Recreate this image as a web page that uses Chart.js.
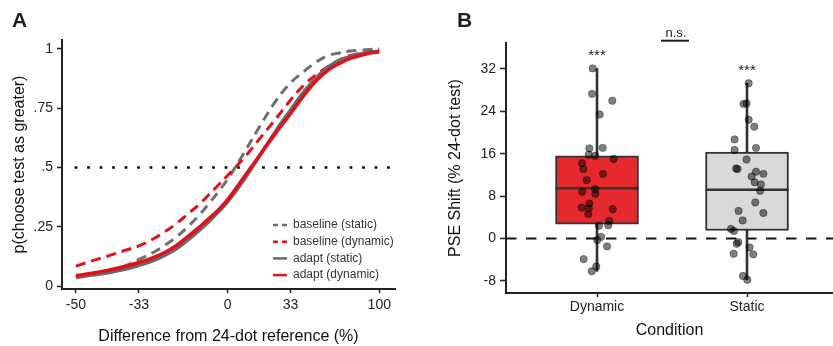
<!DOCTYPE html>
<html>
<head>
<meta charset="utf-8">
<script src="https://cdn.jsdelivr.net/npm/chart.js@4.4.1/dist/chart.umd.min.js"></script>
<style>
  html, body { margin: 0; padding: 0; background: #fff; }
  body { width: 833px; height: 346px; position: relative; overflow: hidden; font-family: "Liberation Sans", Arial, sans-serif; }
  canvas { position: absolute; top: 0; }
  #chartA { left: 0; }
  #chartB { left: 420px; }
  .panel { position: absolute; top: 9px; z-index: 2; font-weight: bold; font-size: 21px; line-height: 1; color: #231f20; }
</style>
</head>
<body>
<div class="panel" style="left:12px">A</div>
<div class="panel" style="left:457px">B</div>
<canvas id="chartA" width="420" height="346"></canvas>
<canvas id="chartB" width="413" height="346"></canvas>
<script>
// ---- panel A: psychometric fits (x = test dots, reference = 24) ----
const numerosity = [12, 13, 14, 15, 16, 17, 18, 19, 20, 21, 22, 23, 24, 26, 28, 30, 32, 34, 36, 38, 40, 42, 44, 46, 48];
const baselineStatic  = [0.035, 0.048, 0.064, 0.085, 0.113, 0.140, 0.172, 0.208, 0.250, 0.296, 0.346, 0.398, 0.450, 0.569, 0.684, 0.784, 0.856, 0.904, 0.944, 0.971, 0.982, 0.990, 0.994, 0.997, 0.999];
const baselineDynamic = [0.085, 0.109, 0.130, 0.151, 0.170, 0.197, 0.229, 0.264, 0.304, 0.342, 0.384, 0.426, 0.466, 0.546, 0.630, 0.708, 0.784, 0.847, 0.891, 0.925, 0.952, 0.971, 0.981, 0.986, 0.990];
const adaptStatic     = [0.039, 0.048, 0.058, 0.071, 0.088, 0.106, 0.130, 0.158, 0.194, 0.232, 0.271, 0.313, 0.355, 0.456, 0.561, 0.658, 0.742, 0.818, 0.879, 0.923, 0.951, 0.967, 0.978, 0.986, 0.990];
const adaptDynamic    = [0.045, 0.056, 0.069, 0.083, 0.100, 0.119, 0.142, 0.172, 0.209, 0.246, 0.284, 0.321, 0.365, 0.466, 0.561, 0.649, 0.727, 0.803, 0.866, 0.910, 0.938, 0.959, 0.971, 0.982, 0.987];
const xTickValues = [12, 16, 24, 32, 48];
const xTickLabels = ['-50', '-33', '0', '33', '100'];
const yTickValues = [0, 0.25, 0.5, 0.75, 1];
const yTickLabels = ['0', '.25', '.5', '.75', '1'];
const chanceLevel = 0.5;

// ---- panel B: PSE shift per participant ----
const conditions = ['Dynamic', 'Static'];
const dynamicShift  = [32.1, 27.3, 26.0, 23.4, 17.0, 17.1, 15.8, 15.6, 15.0, 14.2, 13.1, 12.2, 11.0, 9.3, 8.8, 8.4, 6.6, 5.8, 5.7, 4.6, 5.5, 3.3, 2.5, 2.4, 0.3, -0.3, -1.5, -3.9, -5.3, -6.2];
const dynamicJitter = [-0.029, -0.033, 0.102, 0.018, -0.051, 0.038, -0.055, -0.013, 0.111, -0.1, -0.091, 0.04, -0.069, -0.013, -0.098, -0.011, -0.051, -0.102, -0.055, -0.058, 0.105, 0.082, 0.075, 0.013, 0.027, 0.002, 0.067, -0.089, -0.005, -0.035];
const staticShift   = [29.3, 25.4, 25.5, 22.4, 21.1, 18.7, 16.7, 17.1, 14.9, 13.2, 13.1, 12.6, 12.2, 11.7, 10.6, 10.2, 9.0, 6.8, 5.2, 4.8, 3.4, 1.8, 1.4, -0.7, -1.0, -1.7, -2.9, -3.0, -7.1, -7.8];
const staticJitter  = [0.011, -0.023, -0.003, 0.011, 0.049, -0.083, -0.083, 0.06, -0.003, -0.073, -0.063, 0.06, 0.109, 0.031, 0.051, 0.093, 0.087, 0.055, -0.056, 0.109, -0.029, -0.107, -0.087, -0.058, -0.069, 0.017, -0.089, 0.042, -0.027, 0.002];
const boxQ1 = [2.7, 1.5];
const boxQ3 = [15.6, 16.3];
const boxMedian = [9.5, 9.2];
const whiskerLow = [-6.2, -7.8];
const whiskerHigh = [32.1, 29.3];
const sigLabels = ['***', '***'];
const pairLabel = 'n.s.';
const bTickValues = [-8, 0, 8, 16, 24, 32];

const FONT = '"Liberation Sans", Arial, sans-serif';
Chart.defaults.font.family = FONT;
Chart.defaults.color = '#222';

const axisGrid = len => ({ display: true, drawOnChartArea: false, drawTicks: true, tickLength: len, tickColor: '#222', tickWidth: 1.5 });
const axisBorder = { display: true, color: '#222', width: 2 };

// dotted 0.5 line + legend drawn in the plot corner
const panelAExtras = {
  id: 'panelAExtras',
  beforeDatasetsDraw(chart) {
    const { ctx, chartArea, scales: { x, y } } = chart;
    const yy = y.getPixelForValue(chanceLevel);
    ctx.save();
    ctx.strokeStyle = '#000';
    ctx.lineWidth = 2.7;
    ctx.setLineDash([2.7, 9.8]);
    ctx.beginPath();
    ctx.moveTo(x.getPixelForValue(xTickValues[0]) - 1.3, yy);
    ctx.lineTo(chartArea.right, yy);
    ctx.stroke();
    ctx.restore();
  },
  afterDraw(chart) {
    const { ctx, chartArea } = chart;
    const x0 = chartArea.right - 122, y0 = chartArea.bottom - 64;
    ctx.save();
    ctx.font = '12px ' + FONT;
    ctx.textBaseline = 'middle';
    chart.data.datasets.forEach((ds, i) => {
      const yy = y0 + i * 16.7;
      ctx.strokeStyle = ds.borderColor;
      ctx.lineWidth = 2.5;
      ctx.setLineDash(ds.borderDash.length ? [5, 4] : []);
      ctx.beginPath();
      ctx.moveTo(x0, yy);
      ctx.lineTo(x0 + 14, yy);
      ctx.stroke();
      ctx.fillStyle = '#333';
      ctx.fillText(ds.label, x0 + 20, yy);
    });
    ctx.restore();
  }
};

const curve = (label, values, color, dashed, order) => ({
  label,
  data: numerosity.map((n, i) => ({ x: n, y: values[i] })),
  borderColor: color,
  borderWidth: dashed ? 3 : 3.5,
  borderDash: dashed ? [10, 6] : [],
  pointRadius: 0,
  tension: 0.4,
  fill: false,
  order
});

new Chart(document.getElementById('chartA'), {
  type: 'line',
  data: {
    datasets: [
      curve('baseline (static)', baselineStatic, '#707070', true, 4),
      curve('baseline (dynamic)', baselineDynamic, '#E2101A', true, 3),
      curve('adapt (static)', adaptStatic, '#6A6A6A', false, 2),
      curve('adapt (dynamic)', adaptDynamic, '#E2101A', false, 1)
    ]
  },
  options: {
    responsive: false,
    animation: false,
    events: [],
    layout: { autoPadding: false, padding: { top: 40, right: 25, left: 0, bottom: 0 } },
    plugins: { legend: { display: false }, tooltip: { enabled: false } },
    scales: {
      x: {
        type: 'logarithmic',
        min: 11.26,
        max: 51.57,
        afterBuildTicks: s => { s.ticks = xTickValues.map(v => ({ value: v })); },
        afterFit: s => { s.height = 57; },
        ticks: { autoSkip: false, maxRotation: 0, padding: 4, font: { size: 14 }, callback: (v, i) => xTickLabels[i] },
        grid: axisGrid(4),
        border: axisBorder,
        title: { display: true, text: 'Difference from 24-dot reference (%)', font: { size: 16 }, color: '#111', padding: { top: 0, bottom: 0 } }
      },
      y: {
        min: -0.0114,
        max: 1.0366,
        afterBuildTicks: s => { s.ticks = yTickValues.map(v => ({ value: v })); },
        afterFit: s => { s.width = 62; },
        ticks: { padding: 4, font: { size: 14 }, callback: (v, i) => yTickLabels[i] },
        grid: axisGrid(5),
        border: axisBorder,
        title: { display: true, text: 'p(choose test as greater)', font: { size: 16 }, color: '#111', padding: { top: 10, bottom: 0 } }
      }
    }
  },
  plugins: [panelAExtras]
});

// zero line + significance marks
const panelBExtras = {
  id: 'panelBExtras',
  beforeDatasetsDraw(chart) {
    const { ctx, chartArea, scales: { y } } = chart;
    const yy = y.getPixelForValue(0);
    ctx.save();
    ctx.strokeStyle = '#111';
    ctx.lineWidth = 2;
    ctx.setLineDash([10.5, 9.5]);
    ctx.beginPath();
    ctx.moveTo(chartArea.left, yy);
    ctx.lineTo(chartArea.right, yy);
    ctx.stroke();
    ctx.restore();
  },
  afterDraw(chart) {
    const { ctx, chartArea, scales: { x, y } } = chart;
    ctx.save();
    ctx.fillStyle = '#222';
    ctx.textAlign = 'center';
    ctx.textBaseline = 'alphabetic';
    ctx.font = '15px ' + FONT;
    sigLabels.forEach((s, i) => {
      ctx.fillText(s, x.getPixelForValue(i + 1), y.getPixelForValue(whiskerHigh[i]) - 8.5);
    });
    const mid = x.getPixelForValue(1.52);
    ctx.font = '13px ' + FONT;
    ctx.fillText(pairLabel, mid + 1, chartArea.top - 6.3);
    ctx.strokeStyle = '#222';
    ctx.lineWidth = 2;
    ctx.beginPath();
    ctx.moveTo(mid - 14, chartArea.top - 2.3);
    ctx.lineTo(mid + 14, chartArea.top - 2.3);
    ctx.stroke();
    ctx.restore();
  }
};

const dots = (values, jitter, idx) => ({
  type: 'scatter',
  data: values.map((v, i) => ({ x: idx + 1 + jitter[i], y: v })),
  pointRadius: 3.7,
  backgroundColor: 'rgba(0,0,0,0.5)',
  borderColor: 'rgba(0,0,0,0.35)',
  borderWidth: 1,
  order: 1
});

new Chart(document.getElementById('chartB'), {
  type: 'scatter',
  data: {
    datasets: [
      {
        type: 'bar',
        data: conditions.map((c, i) => ({ x: i + 1, y: [whiskerLow[i], whiskerHigh[i]] })),
        backgroundColor: '#333',
        barThickness: 2,
        grouped: false,
        order: 4
      },
      {
        type: 'bar',
        data: conditions.map((c, i) => ({ x: i + 1, y: [boxQ1[i], boxQ3[i]] })),
        backgroundColor: ['#E6282F', '#D9D9D9'],
        borderColor: '#333',
        borderWidth: 2,
        borderSkipped: false,
        barThickness: 83,
        grouped: false,
        order: 3
      },
      {
        type: 'scatter',
        data: conditions.map((c, i) => ({ x: i + 1, y: boxMedian[i] })),
        pointStyle: 'line',
        pointRadius: 41.5,
        borderColor: '#333',
        borderWidth: 2.5,
        order: 2
      },
      dots(dynamicShift, dynamicJitter, 0),
      dots(staticShift, staticJitter, 1)
    ]
  },
  options: {
    responsive: false,
    animation: false,
    events: [],
    layout: { autoPadding: false, padding: { top: 43, right: 0, left: 0, bottom: 0 } },
    plugins: { legend: { display: false }, tooltip: { enabled: false } },
    scales: {
      x: {
        type: 'linear',
        offset: false,
        min: 0.3933,
        max: 2.5733,
        afterBuildTicks: s => { s.ticks = conditions.map((c, i) => ({ value: i + 1 })); },
        afterFit: s => { s.height = 53; },
        ticks: { autoSkip: false, maxRotation: 0, padding: 2, font: { size: 14 }, callback: (v, i) => conditions[i] },
        grid: Object.assign(axisGrid(4), { offset: false }),
        border: axisBorder,
        title: { display: true, text: 'Condition', font: { size: 16 }, color: '#111', padding: { top: 0, bottom: 5.4 } }
      },
      y: {
        min: -10.3,
        max: 36.9,
        afterBuildTicks: s => { s.ticks = bTickValues.map(v => ({ value: v })); },
        afterFit: s => { s.width = 86; },
        ticks: { padding: 4, font: { size: 14 } },
        grid: axisGrid(6),
        border: axisBorder,
        title: { display: true, text: 'PSE Shift (% 24-dot test)', font: { size: 16 }, color: '#111', padding: { top: 26.4, bottom: 0 } }
      }
    }
  },
  plugins: [panelBExtras]
});
</script>
</body>
</html>
